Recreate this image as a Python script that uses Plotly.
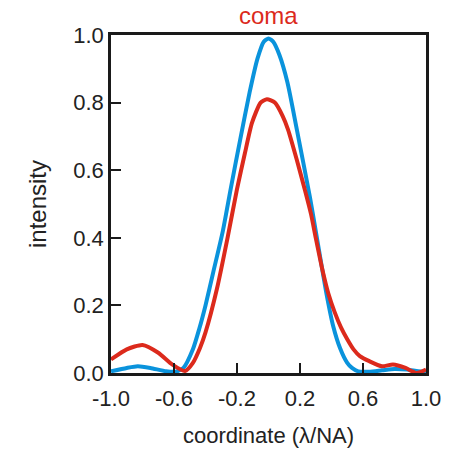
import plotly.graph_objects as go

# Intensity profiles across the focal spot (coordinate in units of lambda/NA)
ideal_x = [-1.0, -0.9, -0.83, -0.75, -0.65, -0.59, -0.54, -0.48, -0.44, -0.40,
           -0.35, -0.29, -0.24, -0.18, -0.12, -0.07, -0.03, 0.0, 0.03, 0.07,
           0.12, 0.18, 0.263, 0.30, 0.34, 0.37, 0.41, 0.454, 0.50, 0.53, 0.57,
           0.64, 0.72, 0.80, 0.88, 0.95, 1.0]
ideal_y = [0.005, 0.015, 0.02, 0.015, 0.005, 0.004, 0.015, 0.07, 0.13, 0.20,
           0.30, 0.42, 0.545, 0.69, 0.83, 0.93, 0.98, 0.99, 0.98, 0.94,
           0.86, 0.72, 0.52, 0.42, 0.31, 0.23, 0.14, 0.074, 0.03, 0.015, 0.005,
           0.004, 0.008, 0.012, 0.01, 0.005, 0.003]

coma_x = [-1.0, -0.9, -0.8, -0.7, -0.61, -0.53, -0.48, -0.435, -0.40, -0.327,
          -0.26, -0.20, -0.15, -0.105, -0.05, -0.01, 0.04, 0.09, 0.124, 0.18,
          0.232, 0.27, 0.30, 0.34, 0.38, 0.42, 0.46, 0.50, 0.54, 0.58, 0.64,
          0.72, 0.79, 0.87, 0.94, 1.0]
coma_y = [0.04, 0.07, 0.083, 0.06, 0.025, 0.006, 0.03, 0.074, 0.12, 0.25,
          0.40, 0.544, 0.65, 0.74, 0.80, 0.81, 0.80, 0.76, 0.72, 0.63,
          0.54, 0.47, 0.40, 0.31, 0.235, 0.18, 0.135, 0.10, 0.07, 0.05, 0.035,
          0.02, 0.025, 0.015, 0.0, 0.01]

x_ticks = [-1.0, -0.6, -0.2, 0.2, 0.6, 1.0]
x_ticktext = ["-1.0", "-0.6", "-0.2", "0.2", "0.6", "1.0"]
y_ticks = [0.0, 0.2, 0.4, 0.6, 0.8, 1.0]
y_ticktext = ["0.0", "0.2", "0.4", "0.6", "0.8", "1.0"]

BLUE = "#0a93dc"
RED = "#dc2a1c"
FONT = "Liberation Sans, Arial, sans-serif"

fig = go.Figure()
fig.add_trace(go.Scatter(x=ideal_x, y=ideal_y, mode="lines",
                         line=dict(color=BLUE, width=4, shape="spline", smoothing=0.6),
                         showlegend=False))
fig.add_trace(go.Scatter(x=coma_x, y=coma_y, mode="lines",
                         line=dict(color=RED, width=4, shape="spline", smoothing=0.6),
                         showlegend=False))

axis_common = dict(
    showline=True, mirror=True, linecolor="#1a1a1a", linewidth=2.5,
    ticks="inside", ticklen=10, tickwidth=2, tickcolor="#1a1a1a",
    showgrid=False, zeroline=False,
    tickfont=dict(family=FONT, size=22, color="#222"),
)

fig.update_xaxes(range=[-1.0, 1.0], tickvals=x_ticks, ticktext=x_ticktext,
                 ticklabelstandoff=4,
                 title_text="coordinate (λ/NA)", title_standoff=18,
                 title_font=dict(family=FONT, size=22, color="#222"),
                 **axis_common)
fig.update_yaxes(range=[0.0, 1.0], tickvals=y_ticks, ticktext=y_ticktext,
                 title_text="intensity", title_standoff=20,
                 title_font=dict(family=FONT, size=24, color="#222"),
                 **axis_common)

fig.add_annotation(text="coma", xref="paper", yref="paper", x=0.5, y=1.0,
                   yanchor="bottom", yshift=4, showarrow=False,
                   font=dict(family=FONT, size=24, color=RED))

fig.update_layout(
    width=459, height=457,
    margin=dict(l=111, r=33, t=35, b=82),
    paper_bgcolor="white", plot_bgcolor="white",
)

fig.write_html("out.html")
